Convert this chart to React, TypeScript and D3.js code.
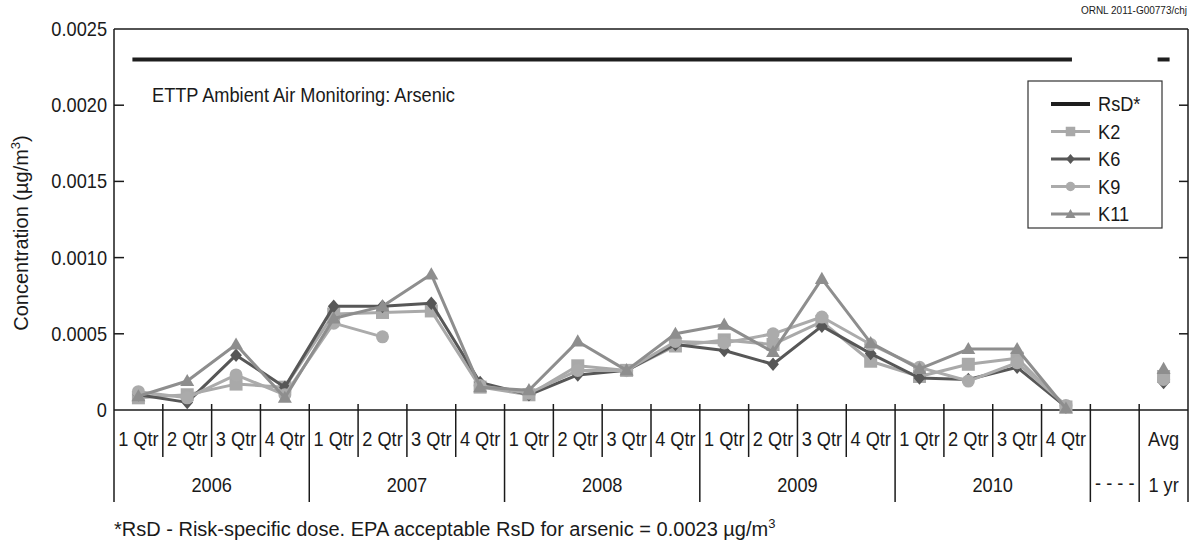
import React from "react";
import * as d3 from "d3";

// ---- data ----
const years = ["2006", "2007", "2008", "2009", "2010"];
const quarters = ["1 Qtr", "2 Qtr", "3 Qtr", "4 Qtr"];
const slotKeys = [
  ...years.flatMap((y) => quarters.map((q) => `${y} ${q}`)),
  "gap",
  "Avg",
];
const rsdValues = [
  0.0023, 0.0023, 0.0023, 0.0023, 0.0023, 0.0023, 0.0023, 0.0023, 0.0023, 0.0023,
  0.0023, 0.0023, 0.0023, 0.0023, 0.0023, 0.0023, 0.0023, 0.0023, 0.0023, 0.0023,
  null, 0.0023,
];
const k2Values = [
  0.00008, 0.0001, 0.00017, 0.00015, 0.00063, 0.00064, 0.00065, 0.00015, 0.0001, 0.00029,
  0.00026, 0.00042, 0.00046, 0.00043, 0.00058, 0.00032, 0.00022, 0.0003, 0.00034, 0.00002,
  null, 0.00022,
];
const k6Values = [
  0.0001, 0.00005, 0.00036, 0.00015, 0.00068, 0.00068, 0.0007, 0.00018, 0.0001, 0.00023,
  0.00026, 0.00043, 0.00039, 0.0003, 0.00055, 0.00037, 0.00021, 0.0002, 0.00028, 0.00002,
  null, 0.00018,
];
const k9Values = [
  0.00012, 0.00008, 0.00023, 0.0001, 0.00057, 0.00048, null, 0.00016, 0.00011, 0.00026,
  0.00026, 0.00045, 0.00044, 0.0005, 0.00061, 0.00043, 0.00028, 0.00019, 0.00031, 0.00003,
  null, 0.0002,
];
const k11Values = [
  0.00009, 0.00019, 0.00043, 0.00008, 0.0006, 0.00068, 0.00089, 0.00015, 0.00013, 0.00045,
  0.00026, 0.0005, 0.00056, 0.00038, 0.00086, 0.00044, 0.00027, 0.0004, 0.0004, 0.00001,
  null, 0.00027,
];
const yTicks = [0, 0.0005, 0.001, 0.0015, 0.002, 0.0025];
const yTickLabels = ["0", "0.0005", "0.0010", "0.0015", "0.0020", "0.0025"];

type Series = { name: string; values: (number | null)[]; color: string; shape: string };
const series: Series[] = [
  { name: "K2", values: k2Values, color: "#a9a9a9", shape: "square" },
  { name: "K6", values: k6Values, color: "#575757", shape: "diamond" },
  { name: "K9", values: k9Values, color: "#ababab", shape: "circle" },
  { name: "K11", values: k11Values, color: "#8e8e8e", shape: "triangle" },
];

const FONT = "'Liberation Sans', Arial, Helvetica, sans-serif";
const INK = "#1a1a1a";

function T({ x, y, anchor = "start", size = 20, sx = 0.91, children }: any) {
  return (
    <text
      transform={`translate(${x},${y}) scale(${sx},1)`}
      textAnchor={anchor}
      fontSize={size}
      fontFamily={FONT}
      fill={INK}
    >
      {children}
    </text>
  );
}

function Marker({ shape, x, y, s, color }: any) {
  if (shape === "square") {
    return <rect x={x - s / 2} y={y - s / 2} width={s} height={s} fill={color} />;
  }
  if (shape === "circle") {
    return <circle cx={x} cy={y} r={s / 2} fill={color} />;
  }
  if (shape === "diamond") {
    const w = s * 0.45, h = s * 0.52;
    return (
      <path d={`M${x},${y - h}L${x + w},${y}L${x},${y + h}L${x - w},${y}Z`} fill={color} />
    );
  }
  const p = d3.symbol(d3.symbolTriangle, s * s * 0.5)();
  return <path d={p || ""} transform={`translate(${x},${y + 1})`} fill={color} />;
}

export default function App() {
  const W = 1194, H = 541;
  const left = 114, right = 1188, top = 29, bottom = 410;
  const x = d3.scaleBand<string>().domain(slotKeys).range([left, right]).padding(0);
  const bw = x.bandwidth();
  const cx = (i: number) => (x(slotKeys[i]) as number) + bw / 2;
  const y = d3.scaleLinear().domain([0, 0.0025]).range([bottom, top]);

  const line = d3
    .line<number | null>()
    .defined((d) => d != null)
    .x((_, i) => cx(i))
    .y((d) => y(d as number));

  // RsD segments (runs of defined points) extended slightly
  const rsdSegs: [number, number, number][] = [];
  let start = -1;
  rsdValues.forEach((v, i) => {
    if (v != null && start < 0) start = i;
    const endRun = v == null || i === rsdValues.length - 1;
    if (endRun && start >= 0) {
      const last = v == null ? i - 1 : i;
      rsdSegs.push([cx(start) - 6, cx(last) + 6, y(rsdValues[start] as number)]);
      start = -1;
    }
  });

  const boundaries = d3.range(slotKeys.length + 1).map((i) => left + i * bw);
  const yearBounds = new Set([0, 4, 8, 12, 16, 20, 21, 22]);

  const legendX = 1028, legendY = 81, legendW = 134, legendH = 147;
  const legRow = (i: number) => 104 + i * 27.5;

  return (
    <svg width={W} height={H} style={{ position: "absolute", left: 0, top: 0, background: "#fff" }}>
      <rect x={0} y={0} width={W} height={H} fill="#fff" />
      {/* frame */}
      <line x1={left} y1={top} x2={right} y2={top} stroke={INK} strokeWidth={1.5} />
      <line x1={left} y1={top} x2={left} y2={502} stroke={INK} strokeWidth={1.5} />
      <line x1={right} y1={top} x2={right} y2={502} stroke={INK} strokeWidth={1.5} />
      <line x1={left} y1={bottom} x2={right} y2={bottom} stroke={INK} strokeWidth={1.5} />
      {/* y ticks */}
      {yTicks.map((t, i) => (
        <g key={i}>
          {t > 0 && t < 0.0025 && (
            <>
              <line x1={left} x2={left + 10} y1={y(t)} y2={y(t)} stroke={INK} strokeWidth={1.5} />
              <line x1={right - 9} x2={right} y1={y(t)} y2={y(t)} stroke={INK} strokeWidth={1.5} />
            </>
          )}
          <T x={107} y={y(t) + 7} anchor="end">{yTickLabels[i]}</T>
        </g>
      ))}
      {/* category separators */}
      {boundaries.map((bx, i) =>
        i === 0 || i === slotKeys.length ? null : (
          <line key={i} x1={bx} x2={bx} y1={404} y2={yearBounds.has(i) ? 502 : 457} stroke={INK} strokeWidth={1.5} />
        )
      )}
      {/* quarter labels */}
      {slotKeys.map((k, i) =>
        i < 20 ? (
          <T key={k} x={cx(i)} y={446} anchor="middle">{quarters[i % 4]}</T>
        ) : null
      )}
      <T x={cx(21)} y={446} anchor="middle">Avg</T>
      {years.map((yr, j) => (
        <T key={yr} x={left + (j * 4 + 2) * bw} y={492} anchor="middle">{yr}</T>
      ))}
      <T x={cx(20)} y={490} anchor="middle">- - - -</T>
      <T x={cx(21)} y={492} anchor="middle">1 yr</T>

      {/* y label */}
      <text transform="translate(28,233) rotate(-90)" textAnchor="middle" fontSize={20} fontFamily={FONT} fill={INK}>
        Concentration (µg/m<tspan dy={-8} fontSize={13}>3</tspan><tspan dy={8}>)</tspan>
      </text>

      {/* title */}
      <T x={152} y={102}>ETTP Ambient Air Monitoring: Arsenic</T>
      <T x={1187} y={14} anchor="end" size={11}>ORNL 2011-G00773/chj</T>

      {/* RsD */}
      {rsdSegs.map(([a, b, yy], i) => (
        <line key={i} x1={a} x2={b} y1={yy} y2={yy} stroke="#1e1e1e" strokeWidth={4} />
      ))}

      {/* series */}
      {series.map((s) => (
        <g key={s.name}>
          <path d={line(s.values) || ""} fill="none" stroke={s.color} strokeWidth={3} strokeLinejoin="round" />
          {s.values.map((v, i) =>
            v == null ? null : <Marker key={i} shape={s.shape} x={cx(i)} y={y(v)} s={13} color={s.color} />
          )}
        </g>
      ))}

      {/* legend */}
      <rect x={legendX} y={legendY} width={legendW} height={legendH} fill="#fff" stroke="#333" strokeWidth={1.2} />
      <line x1={1051} x2={1090} y1={legRow(0)} y2={legRow(0)} stroke="#1e1e1e" strokeWidth={4} />
      <T x={1098} y={legRow(0) + 7}>RsD*</T>
      {series.map((s, i) => (
        <g key={s.name}>
          <line x1={1051} x2={1090} y1={legRow(i + 1)} y2={legRow(i + 1)} stroke={s.color} strokeWidth={3} />
          <Marker shape={s.shape} x={1070.5} y={legRow(i + 1)} s={9.5} color={s.color} />
          <T x={1098} y={legRow(i + 1) + 7}>{s.name}</T>
        </g>
      ))}

      {/* footnote */}
      <text transform="translate(114,536)" fontSize={20} fontFamily={FONT} fill={INK}>
        *RsD - Risk-specific dose. EPA acceptable RsD for arsenic = 0.0023 µg/m
        <tspan dy={-8} fontSize={13}>3</tspan>
      </text>
    </svg>
  );
}
